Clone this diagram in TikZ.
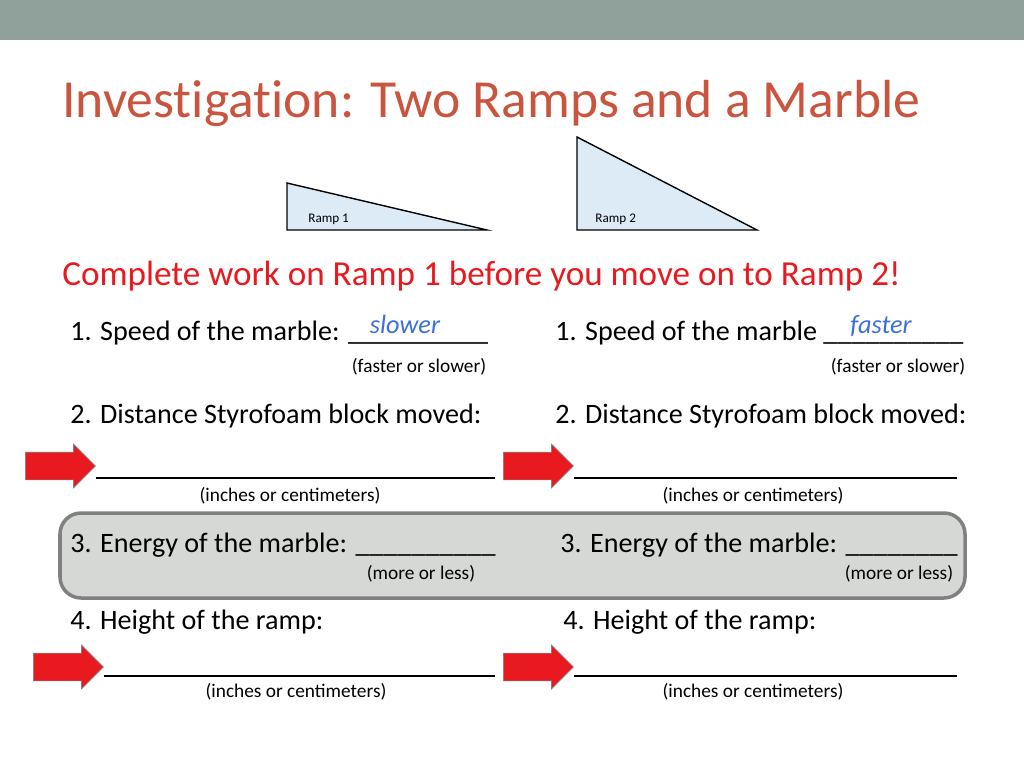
\documentclass[tikz,border=0pt]{standalone}
\usepackage{fontspec}
\setmainfont{Carlito}
\usetikzlibrary{shapes.arrows, positioning}
\definecolor{barGray}{HTML}{8FA19A}
\definecolor{titleRed}{HTML}{C9553F}
\definecolor{warnRed}{HTML}{E8191F}
\definecolor{rampBlue}{HTML}{DDEBF7}
\definecolor{penBlue}{HTML}{3C6FD8}
\definecolor{boxGray}{HTML}{D5D8D5}
\tikzset{
	body/.style={anchor=base west, inner sep=0pt, font=\fontsize{16}{19}\selectfont},
	hint/.style={anchor=base, inner sep=0pt, font=\fontsize{11}{13}\selectfont},
	pen/.style={anchor=base, inner sep=0pt, text=penBlue, font=\fontsize{15}{18}\selectfont\itshape},
	ramp/.style={draw, thick, fill=rampBlue},
	rlabel/.style={anchor=base west, inner sep=0pt, font=\fontsize{7.5}{9}\selectfont},
	redarrow/.style={single arrow, draw=gray, fill=warnRed, minimum height=1.4cm, inner xsep=0pt, inner ysep=0.27cm, single arrow head extend=0.16cm, anchor=west},
	blank/.style={line width=0.8pt}
}
\begin{document}
\begin{tikzpicture}[x=0.02cm, y=-0.02cm]
	\useasboundingbox (0,0) rectangle (1024,768);
	\fill[barGray] (0,0) rectangle (1024,40);
	\node (title) [anchor=base west, inner sep=0pt, text=titleRed, font=\addfontfeatures{Ligatures=NoCommon}\fontsize{30.5}{36}\selectfont] at (62,117) {Investigation: Two Ramps and a Marble};
	
	% ramps
	\draw[ramp] (287,183) -- (487,230) -- (287,230) -- cycle;
	\node (r1) [rlabel] at (308,222) {Ramp 1};
	\draw[ramp] (577,137) -- (757,230) -- (577,230) -- cycle;
	\node (r2) [rlabel] at (595,222) {Ramp 2};
	
	\node (warn) [anchor=base west, inner sep=0pt, text=warnRed, font=\fontsize{20}{24}\selectfont] at (62,285) {Complete work on Ramp 1 before you move on to Ramp 2!};
	
	% question 1
	\node (s1) [body] at (70,340) {1. Speed of the marble: \_\_\_\_\_\_\_\_\_\_};
	\node (h1) [pen] at (405,333) {slower};
	\node (f1) [hint] at (419,372) {(faster or slower)};
	\node (s2) [body] at (555,340) {1. Speed of the marble \_\_\_\_\_\_\_\_\_\_};
	\node (h2) [pen] at (881,333) {faster};
	\node (f2) [hint] at (898,372) {(faster or slower)};
	
	% question 2
	\node (d1) [body] at (70,423) {2. Distance Styrofoam block moved:};
	\node (d2) [body] at (555,423) {2. Distance Styrofoam block moved:};
	\node (a1) [redarrow] at (25,466) {};
	\node (a2) [redarrow] at (503,466) {};
	\coordinate (e1) at (495,478);
	\coordinate (e2) at (957,478);
	\draw[blank] (a1.east |- e1) -- (e1);
	\draw[blank] (a2.east |- e2) -- (e2);
	\node (u1) [hint] at (290,501) {(inches or centimeters)};
	\node (u2) [hint] at (753,501) {(inches or centimeters)};
	
	% question 3
	\draw[gray, line width=2pt, fill=boxGray, rounded corners=12pt] (60,513) rectangle (965,598);
	\node (n1) [body] at (70,552) {3. Energy of the marble: \_\_\_\_\_\_\_\_\_\_};
	\node (n2) [body] at (560,552) {3. Energy of the marble: \_\_\_\_\_\_\_\_};
	\node (m1) [hint] at (421,579) {(more or less)};
	\node (m2) [hint] at (899,579) {(more or less)};
	
	% question 4
	\node (t1) [body] at (70,629) {4. Height of the ramp:};
	\node (t2) [body] at (563,629) {4. Height of the ramp:};
	\node (a3) [redarrow] at (33,667) {};
	\node (a4) [redarrow] at (503,667) {};
	\coordinate (e3) at (495,676);
	\coordinate (e4) at (957,676);
	\draw[blank] (a3.east |- e3) -- (e3);
	\draw[blank] (a4.east |- e4) -- (e4);
	\node (u3) [hint] at (296,697) {(inches or centimeters)};
	\node (u4) [hint] at (753,697) {(inches or centimeters)};
\end{tikzpicture}
\end{document}
